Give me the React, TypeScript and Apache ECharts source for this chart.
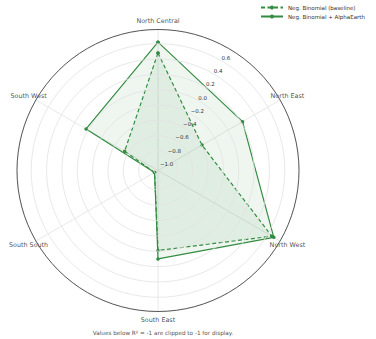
import React, { useEffect, useRef } from "react";
import * as echarts from "echarts";

const categories = ["North Central", "North East", "North West", "South East", "South South", "South West"];
const baselineValues = [0.48, -0.39, 0.66, -0.01, -1.0, -0.55];
const alphaEarthValues = [0.62, 0.22, 0.69, 0.1, -1.0, 0.03];
const seriesNames = ["Neg. Binomial (baseline)", "Neg. Binomial + AlphaEarth"];
const radiusMin = -1.052;
const radiusMax = 0.785;
const labelRadius = 0.895;
const footnote = "Values below R² = -1 are clipped to -1 for display.";

const GREEN = "#338c42";
const FONT = "DejaVu Sans";

// angle axis order: boundaryGap bands starting at 60deg clockwise -> first band centre at 30deg (North East)
const angleCats = [...categories.slice(1), categories[0]];

function polygon(values: number[]) {
  const pts = categories.map((c, i) => [values[i], angleCats.indexOf(c)]);
  pts.push(pts[0]);
  return pts;
}

export default function App() {
  const ref = useRef<HTMLDivElement>(null);
  useEffect(() => {
    const chart = echarts.init(ref.current!, null, { renderer: "svg" });
    const spokes = angleCats.map((c, i) => ({
      type: "line",
      coordinateSystem: "polar",
      data: [[radiusMin, i], [radiusMax, i]],
      symbol: "none",
      silent: true,
      lineStyle: { color: "#e2e2e2", width: 0.8 },
      z: 1,
    }));
    chart.setOption({
      animation: false,
      textStyle: { fontFamily: FONT },
      polar: { center: [158, 170.5], radius: 141 },
      angleAxis: {
        type: "category",
        data: angleCats,
        startAngle: 60,
        clockwise: true,
        boundaryGap: true,
        axisLine: { show: true, lineStyle: { color: "#333", width: 0.8 } },
        axisTick: { show: false },
        axisLabel: { show: false },
        splitLine: { show: false },
        z: 6,
      },
      radiusAxis: {
        type: "value",
        min: radiusMin,
        max: radiusMax,
        splitNumber: 9,
        minInterval: 0.2,
        maxInterval: 0.2,
        axisLine: { show: false },
        axisTick: { show: false },
        splitLine: { show: true, lineStyle: { color: "#e2e2e2", width: 0.8 } },
        axisLabel: {
          showMinLabel: false,
          showMaxLabel: false,
          fontSize: 5.5,
          color: "#333",
          margin: 0,
          align: "left",
          verticalAlign: "bottom",
          formatter: (v: number) => {
            if (Math.abs(v * 5 - Math.round(v * 5)) > 1e-6) return "";
            return v.toFixed(1).replace("-", "\u2212");
          },
        },
        z: 5,
      },
      legend: {
        left: 260,
        top: 4.5,
        padding: 0,
        orient: "vertical",
        itemWidth: 22,
        itemHeight: 5,
        itemGap: 3,
        textStyle: { fontSize: 5.5, color: "#333", fontFamily: FONT, lineHeight: 6 },
        data: seriesNames,
      },
      title: {
        text: footnote,
        left: 158,
        top: 325,
        textAlign: "center",
        textStyle: { fontSize: 5.7, color: "#555", fontWeight: "normal", fontFamily: FONT },
      },
      series: [
        ...spokes,
        {
          name: seriesNames[0],
          type: "line",
          coordinateSystem: "polar",
          data: polygon(baselineValues),
          symbol: "circle",
          symbolSize: 3.5,
          itemStyle: { color: GREEN },
          lineStyle: { color: GREEN, width: 1.2, type: [4, 2.5] },
          areaStyle: { color: GREEN, opacity: 0.08, origin: "start" },
          z: 3,
        },
        {
          name: seriesNames[1],
          type: "line",
          coordinateSystem: "polar",
          data: polygon(alphaEarthValues),
          symbol: "circle",
          symbolSize: 3.5,
          itemStyle: { color: GREEN },
          lineStyle: { color: GREEN, width: 1.2 },
          areaStyle: { color: GREEN, opacity: 0.08, origin: "start" },
          z: 3,
        },
        {
          type: "scatter",
          coordinateSystem: "polar",
          clip: false,
          silent: true,
          symbolSize: 0,
          data: angleCats.map((c, i) => [labelRadius, i]),
          label: {
            show: true,
            position: "inside",
            fontSize: 6.4,
            color: "#222",
            fontFamily: FONT,
            formatter: (p: any) => angleCats[p.value[1]],
          },
          z: 4,
        },
      ],
    });
    return () => chart.dispose();
  }, []);
  return <div ref={ref} style={{ position: "fixed", left: 0, top: 0, width: 376, height: 339, background: "#fff" }} />;
}
